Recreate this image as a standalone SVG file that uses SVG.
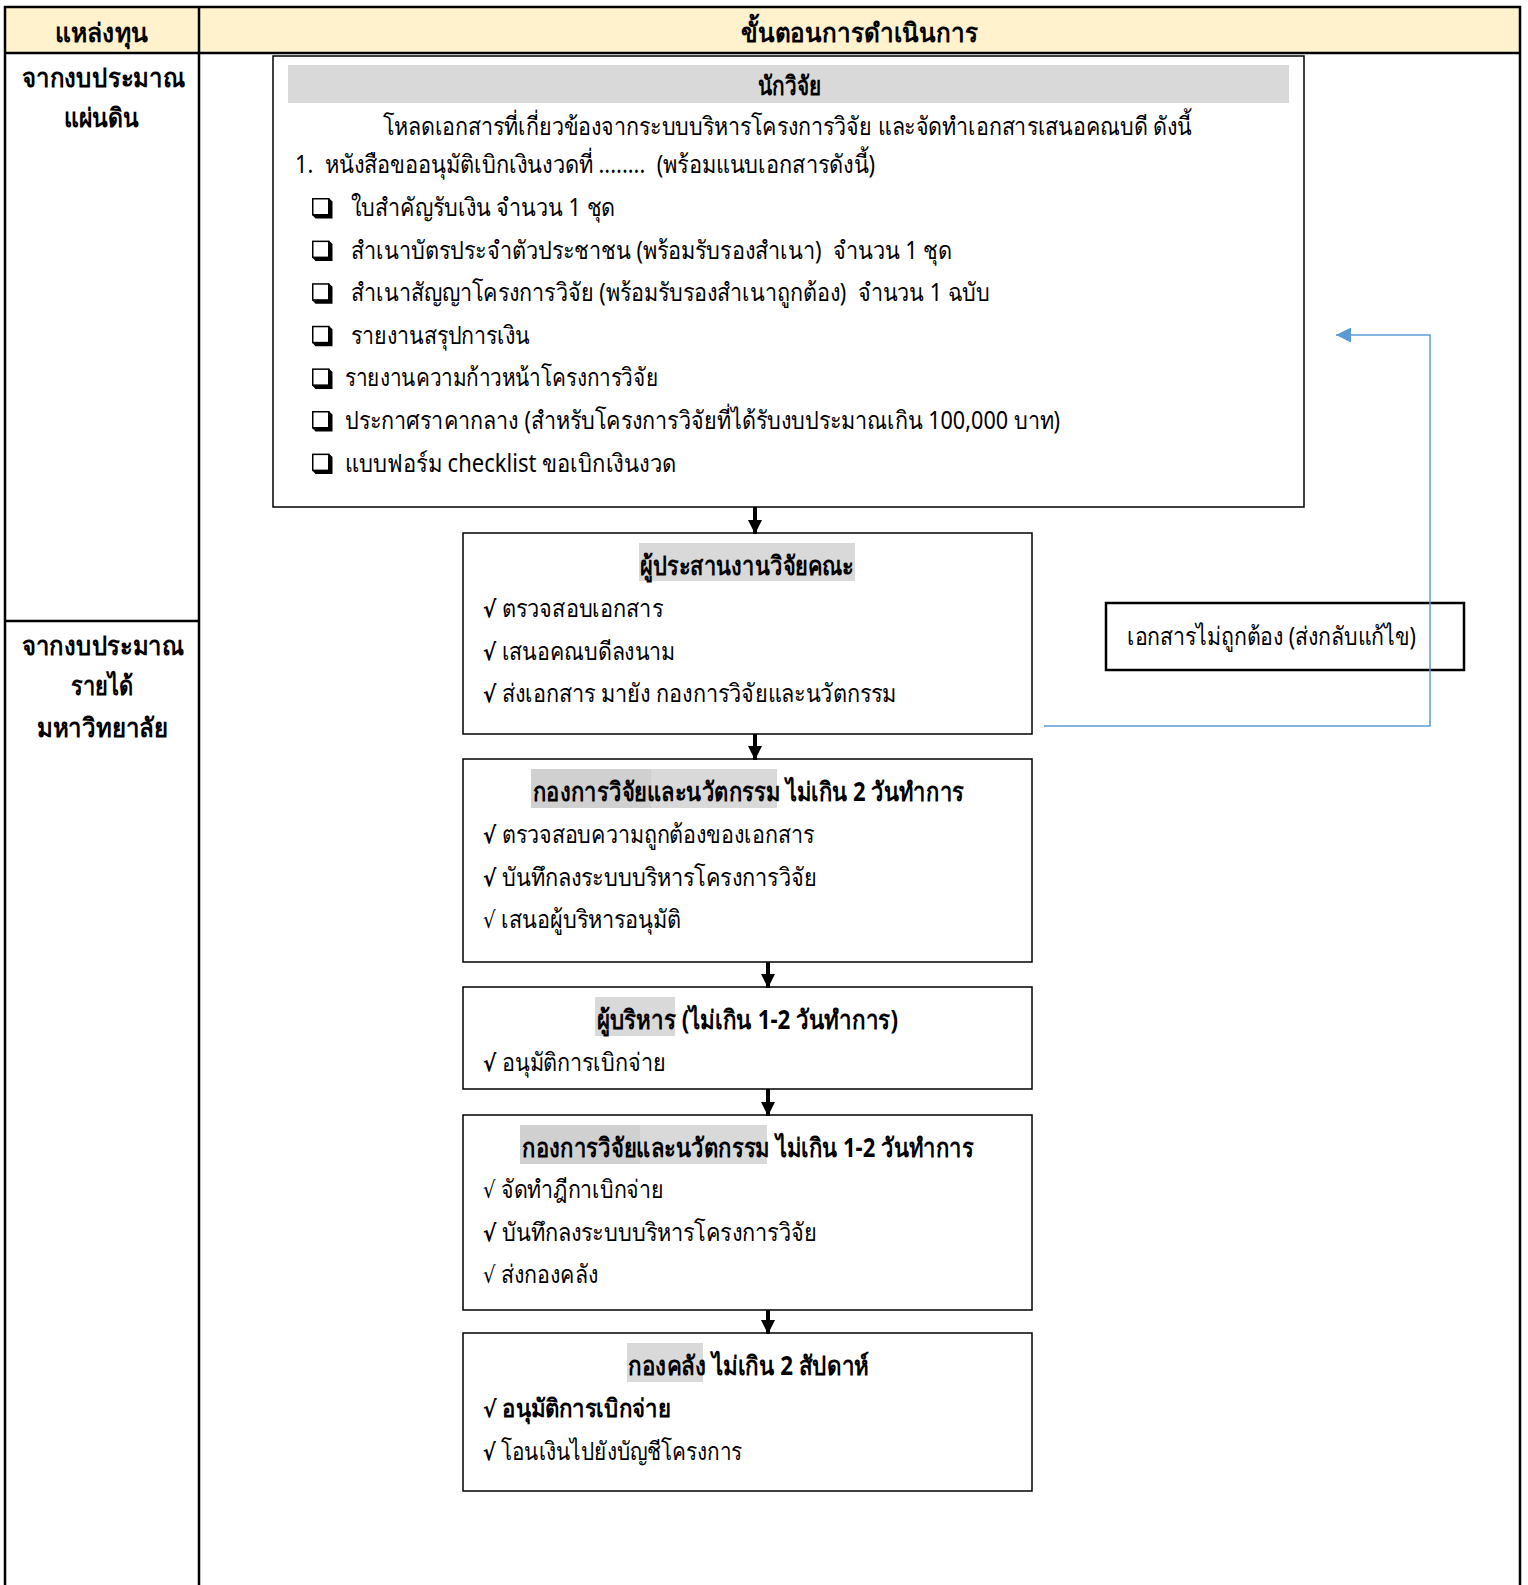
<svg xmlns="http://www.w3.org/2000/svg" xmlns:xlink="http://www.w3.org/1999/xlink" width="1528" height="1585" viewBox="0 0 1528 1585">
<style>
  text { font-family: "Noto Sans", "DejaVu Sans", sans-serif; font-size: 26px; fill: #000; }
  .it { font-size: 25px; }
  .b { font-weight: bold; }
  .ck { font-family: "DejaVu Sans", sans-serif; font-size: 23px; }
  .grid { stroke: #000; stroke-width: 2.5; fill: none; }
  .box { fill: #fff; stroke: #000; stroke-width: 1.5; }
  .hl { fill: #D9D9D9; }
  .hl2 { fill: #D0D0D0; }
  .flow { stroke: #000; stroke-width: 4; fill: none; marker-end: url(#ah); }
  .back { stroke: #5B9BD5; stroke-width: 1.5; fill: none; marker-end: url(#ahb); }
</style>
<defs>
  <marker id="ah" viewBox="0 0 14 14" refX="14" refY="7" markerWidth="14" markerHeight="14" markerUnits="userSpaceOnUse" orient="auto">
    <path d="M0,0 L14,7 L0,14 Z" fill="#000"/>
  </marker>
  <marker id="ahb" viewBox="0 0 14 14" refX="14" refY="7" markerWidth="15" markerHeight="15" markerUnits="userSpaceOnUse" orient="auto">
    <path d="M0,0 L14,7 L0,14 Z" fill="#5B9BD5"/>
  </marker>
  <g id="cb">
    <rect x="0.75" y="0.75" width="16" height="16" fill="#fff" stroke="#000" stroke-width="1.5"/>
    <polygon points="16.75,0 20.5,3.5 20.5,20.5 3.5,20.5 0,16.75 16.75,16.75" fill="#000"/>
  </g>
</defs>

<g id="table">
  <rect x="5" y="7" width="1515" height="46" fill="#FFF2CC"/>
  <path class="grid" d="M5,1590 V7 H1520 V1590 M5,53 H1520 M199,7 V1590 M5,621 H199"/>
  <text class="b" x="55" y="42" textLength="93" lengthAdjust="spacingAndGlyphs">แหล่งทุน</text>
  <text class="b" x="741" y="42" textLength="237" lengthAdjust="spacingAndGlyphs">ขั้นตอนการดำเนินการ</text>
</g>

<g id="source-1">
  <text class="b" x="22" y="87" textLength="163" lengthAdjust="spacingAndGlyphs">จากงบประมาณ</text>
  <text class="b" x="64" y="127" textLength="75" lengthAdjust="spacingAndGlyphs">แผ่นดิน</text>
</g>
<g id="source-2">
  <text class="b" x="22" y="655" textLength="162" lengthAdjust="spacingAndGlyphs">จากงบประมาณ</text>
  <text class="b" x="71" y="695" textLength="62" lengthAdjust="spacingAndGlyphs">รายได้</text>
  <text class="b" x="37" y="737" textLength="131" lengthAdjust="spacingAndGlyphs">มหาวิทยาลัย</text>
</g>

<g id="researcher">
  <rect class="box" x="273" y="56" width="1031" height="451"/>
  <rect class="hl" x="288" y="65" width="1001" height="38"/>
  <text class="b" x="758" y="95" textLength="63" lengthAdjust="spacingAndGlyphs">นักวิจัย</text>
  <text class="it" x="383" y="135" textLength="809" lengthAdjust="spacingAndGlyphs">โหลดเอกสารที่เกี่ยวข้องจากระบบบริหารโครงการวิจัย และจัดทำเอกสารเสนอคณบดี ดังนี้</text>
  <text class="it" x="295" y="173" xml:space="preserve" textLength="580" lengthAdjust="spacingAndGlyphs">1.  หนังสือขออนุมัติเบิกเงินงวดที่ ........  (พร้อมแนบเอกสารดังนี้)</text>
  <use xlink:href="#cb" x="312" y="198"/>
  <text class="it" x="351" y="216" textLength="264" lengthAdjust="spacingAndGlyphs">ใบสำคัญรับเงิน จำนวน 1 ชุด</text>
  <use xlink:href="#cb" x="312" y="240.6"/>
  <text class="it" x="351" y="258.6" xml:space="preserve" textLength="601" lengthAdjust="spacingAndGlyphs">สำเนาบัตรประจำตัวประชาชน (พร้อมรับรองสำเนา)  จำนวน 1 ชุด</text>
  <use xlink:href="#cb" x="312" y="283.2"/>
  <text class="it" x="351" y="301.2" xml:space="preserve" textLength="639" lengthAdjust="spacingAndGlyphs">สำเนาสัญญาโครงการวิจัย (พร้อมรับรองสำเนาถูกต้อง)  จำนวน 1 ฉบับ</text>
  <use xlink:href="#cb" x="312" y="325.8"/>
  <text class="it" x="351" y="343.8" textLength="179" lengthAdjust="spacingAndGlyphs">รายงานสรุปการเงิน</text>
  <use xlink:href="#cb" x="312" y="368.4"/>
  <text class="it" x="345" y="386.4" textLength="313" lengthAdjust="spacingAndGlyphs">รายงานความก้าวหน้าโครงการวิจัย</text>
  <use xlink:href="#cb" x="312" y="411"/>
  <text class="it" x="345" y="429" textLength="715" lengthAdjust="spacingAndGlyphs">ประกาศราคากลาง (สำหรับโครงการวิจัยที่ได้รับงบประมาณเกิน 100,000 บาท)</text>
  <use xlink:href="#cb" x="312" y="453.6"/>
  <text class="it" x="345" y="471.6" textLength="331" lengthAdjust="spacingAndGlyphs">แบบฟอร์ม checklist ขอเบิกเงินงวด</text>
</g>

<g id="coordinator">
  <rect class="box" x="463" y="533" width="569" height="201"/>
  <rect class="hl" x="639" y="543" width="216" height="38"/>
  <text class="b" x="640" y="575" textLength="214" lengthAdjust="spacingAndGlyphs">ผู้ประสานงานวิจัยคณะ</text>
  <text class="it" x="483" y="617" textLength="180" lengthAdjust="spacingAndGlyphs"><tspan class="ck b">√</tspan> ตรวจสอบเอกสาร</text>
  <text class="it" x="483" y="659.5" textLength="192" lengthAdjust="spacingAndGlyphs"><tspan class="ck b">√</tspan> เสนอคณบดีลงนาม</text>
  <text class="it" x="483" y="702" textLength="413" lengthAdjust="spacingAndGlyphs"><tspan class="ck b">√</tspan> ส่งเอกสาร มายัง กองการวิจัยและนวัตกรรม</text>
</g>

<g id="research-division-1">
  <rect class="box" x="463" y="759" width="569" height="203"/>
  <rect class="hl2" x="531" y="769" width="120" height="39"/>
  <rect class="hl" x="651" y="769" width="126" height="39"/>
  <text class="b" x="533" y="801" textLength="431" lengthAdjust="spacingAndGlyphs">กองการวิจัยและนวัตกรรม ไม่เกิน 2 วันทำการ</text>
  <text class="it" x="483" y="843" textLength="331" lengthAdjust="spacingAndGlyphs"><tspan class="ck b">√</tspan> ตรวจสอบความถูกต้องของเอกสาร</text>
  <text class="it" x="483" y="885.5" textLength="334" lengthAdjust="spacingAndGlyphs"><tspan class="ck b">√</tspan> บันทึกลงระบบบริหารโครงการวิจัย</text>
  <text class="it" x="483" y="928" textLength="198" lengthAdjust="spacingAndGlyphs"><tspan class="ck">√</tspan> เสนอผู้บริหารอนุมัติ</text>
</g>

<g id="executive">
  <rect class="box" x="463" y="987" width="569" height="102"/>
  <rect class="hl" x="595" y="997" width="80" height="39"/>
  <text class="b" x="597" y="1029" textLength="301" lengthAdjust="spacingAndGlyphs">ผู้บริหาร (ไม่เกิน 1-2 วันทำการ)</text>
  <text class="it" x="483" y="1071" textLength="183" lengthAdjust="spacingAndGlyphs"><tspan class="ck b">√</tspan> อนุมัติการเบิกจ่าย</text>
</g>

<g id="research-division-2">
  <rect class="box" x="463" y="1115" width="569" height="195"/>
  <rect class="hl2" x="520" y="1125" width="120" height="39"/>
  <rect class="hl" x="640" y="1125" width="127" height="39"/>
  <text class="b" x="522" y="1157" textLength="452" lengthAdjust="spacingAndGlyphs">กองการวิจัยและนวัตกรรม ไม่เกิน 1-2 วันทำการ</text>
  <text class="it" x="483" y="1198" textLength="181" lengthAdjust="spacingAndGlyphs"><tspan class="ck">√</tspan> จัดทำฎีกาเบิกจ่าย</text>
  <text class="it" x="483" y="1240.5" textLength="334" lengthAdjust="spacingAndGlyphs"><tspan class="ck b">√</tspan> บันทึกลงระบบบริหารโครงการวิจัย</text>
  <text class="it" x="483" y="1283" textLength="115" lengthAdjust="spacingAndGlyphs"><tspan class="ck">√</tspan> ส่งกองคลัง</text>
</g>

<g id="finance">
  <rect class="box" x="463" y="1333" width="569" height="158"/>
  <rect class="hl" x="627" y="1343" width="76" height="39"/>
  <text class="b" x="628" y="1375" textLength="241" lengthAdjust="spacingAndGlyphs">กองคลัง ไม่เกิน 2 สัปดาห์</text>
  <text class="it b" x="483" y="1417" textLength="188" lengthAdjust="spacingAndGlyphs"><tspan class="ck">√</tspan> อนุมัติการเบิกจ่าย</text>
  <text class="it" x="483" y="1459.5" textLength="259" lengthAdjust="spacingAndGlyphs"><tspan class="ck b">√</tspan> โอนเงินไปยังบัญชีโครงการ</text>
</g>

<g id="return-note">
  <rect x="1106" y="603" width="358" height="67" fill="#fff" stroke="#000" stroke-width="2.5"/>
  <text class="it" x="1127" y="645" textLength="289" lengthAdjust="spacingAndGlyphs">เอกสารไม่ถูกต้อง (ส่งกลับแก้ไข)</text>
</g>

<g id="connectors">
  <line class="flow" x1="755" y1="507" x2="755" y2="534"/>
  <line class="flow" x1="755" y1="734" x2="755" y2="760"/>
  <line class="flow" x1="768" y1="962" x2="768" y2="988"/>
  <line class="flow" x1="768" y1="1089" x2="768" y2="1116"/>
  <line class="flow" x1="768" y1="1310" x2="768" y2="1334"/>
  <polyline class="back" points="1044,726 1430,726 1430,335 1336,335"/>
</g>
</svg>
